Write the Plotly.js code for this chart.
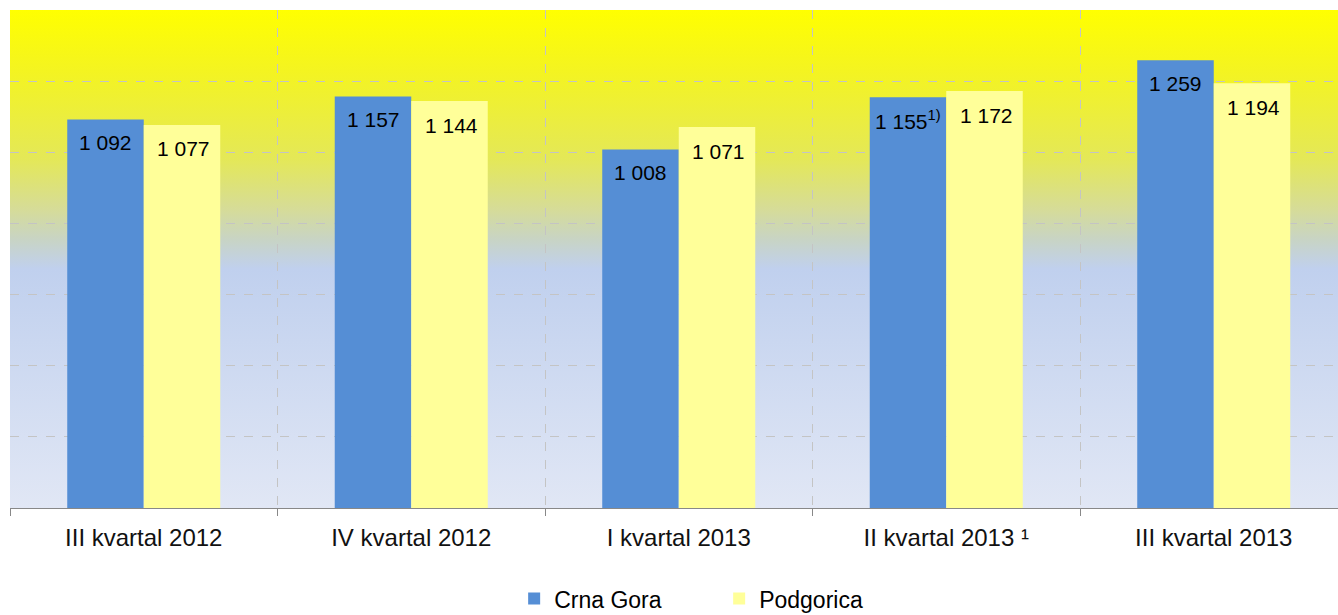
<!DOCTYPE html>
<html>
<head>
<meta charset="utf-8">
<script src="https://cdn.plot.ly/plotly-3.0.1.min.js"></script>
<style>
html,body{margin:0;padding:0;background:#fff;}
#chart{width:1338px;height:615px;}
</style>
</head>
<body>
<div id="chart"></div>
<script>
const categories = ["III kvartal 2012", "IV kvartal 2012", "I kvartal 2013", "II kvartal 2013 ¹", "III kvartal 2013"];
const crnaGora = [1092, 1157, 1008, 1155, 1259];
const podgorica = [1077, 1144, 1071, 1172, 1194];
const crnaGoraLabels = ["1 092", "1 157", "1 008", "1 155<sup>1)</sup>", "1 259"];
const podgoricaLabels = ["1 077", "1 144", "1 071", "1 172", "1 194"];
const yTicks = [0, 200, 400, 600, 800, 1000, 1200, 1400];

const font = "'Liberation Sans', Arial, sans-serif";

const traces = [
  {type: "bar", name: "Crna Gora", x: categories, y: crnaGora,
   marker: {color: "#558ed5"}, hoverinfo: "none"},
  {type: "bar", name: "Podgorica", x: categories, y: podgorica,
   marker: {color: "#ffff99"}, hoverinfo: "none"}
];

const annotations = [];
categories.forEach((c, i) => {
  annotations.push({x: c, y: crnaGora[i], xref: "x", yref: "y", text: crnaGoraLabels[i],
    showarrow: false, xshift: -38, yshift: -23, font: {family: font, size: 21, color: "#000"}});
  annotations.push({x: c, y: podgorica[i], xref: "x", yref: "y", text: podgoricaLabels[i],
    showarrow: false, xshift: 40, yshift: -24, font: {family: font, size: 21, color: "#000"}});
});

const grad = '<svg xmlns="http://www.w3.org/2000/svg" width="100" height="100" preserveAspectRatio="none">' +
  '<defs><linearGradient id="g" x1="0" y1="0" x2="0" y2="1">' +
  '<stop offset="0" stop-color="#ffff00"/>' +
  '<stop offset="0.12" stop-color="#f4f420"/>' +
  '<stop offset="0.3" stop-color="#e4e858"/>' +
  '<stop offset="0.4" stop-color="#d6dc98"/>' +
  '<stop offset="0.46" stop-color="#c8d4c4"/>' +
  '<stop offset="0.52" stop-color="#c0d0ee"/>' +
  '<stop offset="1" stop-color="#e1e7f5"/>' +
  '</linearGradient></defs><rect width="100" height="100" fill="url(#g)"/></svg>';

const layout = {
  width: 1338, height: 615,
  margin: {l: 10, r: 0, t: 10, b: 107, autoexpand: false},
  paper_bgcolor: "#ffffff",
  plot_bgcolor: "rgba(0,0,0,0)",
  font: {family: font, size: 24, color: "#000"},
  barmode: "group",
  bargap: 0.428,
  bargroupgap: 0,
  showlegend: true,
  legend: {orientation: "h", x: 0.534, xanchor: "center", y: -0.182, yanchor: "middle",
    font: {family: font, size: 23, color: "#000"}, entrywidth: 160, itemwidth: 30,
    traceorder: "normal"},
  xaxis: {
    type: "category",
    range: [-0.5, 4.4645],
    tickson: "boundaries",
    showgrid: true, gridcolor: "#c4c4c4", griddash: "dash", gridwidth: 1,
    ticks: "outside", ticklen: 7, tickcolor: "#888888", tickwidth: 1,
    ticklabelstandoff: 8,
    showline: true, linecolor: "#888888", linewidth: 1,
    tickfont: {family: font, size: 24, color: "#111"},
    zeroline: false, fixedrange: true, automargin: false
  },
  yaxis: {
    range: [0, 1400],
    tickvals: yTicks,
    showticklabels: false,
    showgrid: true, gridcolor: "#c4c4c4", griddash: "dash", gridwidth: 1,
    zeroline: false, showline: false, ticks: "", fixedrange: true, automargin: false
  },
  images: [{
    source: "data:image/svg+xml;charset=utf-8," + encodeURIComponent(grad),
    xref: "paper", yref: "paper", x: 0, y: 1, sizex: 1.0073, sizey: 1,
    sizing: "stretch", layer: "below", xanchor: "left", yanchor: "top"
  }],
  annotations: annotations
};

Plotly.newPlot("chart", traces, layout, {displayModeBar: false, staticPlot: true});
</script>
</body>
</html>
